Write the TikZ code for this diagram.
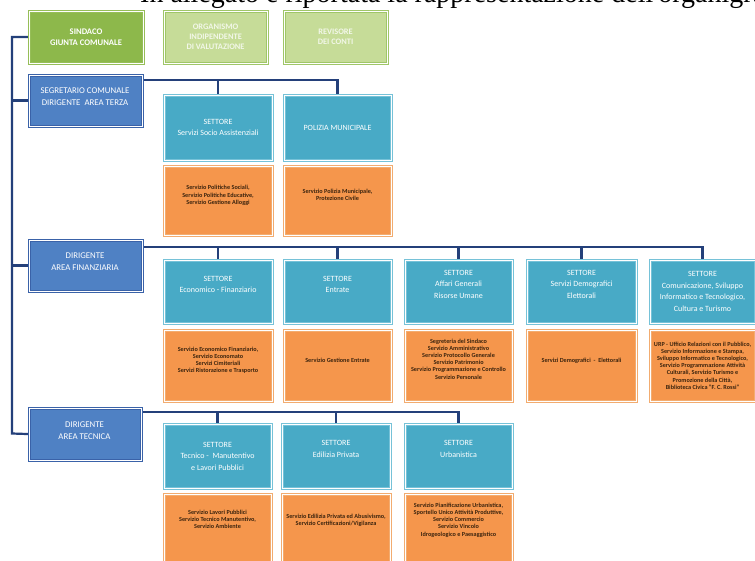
\documentclass[tikz,border=0pt]{standalone}
\usepackage{fontspec}
\setmainfont{Carlito}
\newfontfamily\serifx{Liberation Serif}
\usetikzlibrary{backgrounds}
\definecolor{blueF}{RGB}{79,129,196}
\definecolor{blueB}{RGB}{58,98,168}
\definecolor{tealF}{RGB}{72,170,198}
\definecolor{tealB}{RGB}{118,194,216}
\definecolor{orF}{RGB}{245,150,76}
\definecolor{orB}{RGB}{242,172,112}
\definecolor{orT}{RGB}{60,36,14}
\definecolor{grD}{RGB}{141,184,75}
\definecolor{grDB}{RGB}{150,190,88}
\definecolor{grL}{RGB}{198,220,152}
\definecolor{grLB}{RGB}{160,198,104}
\definecolor{grLT}{RGB}{242,247,232}
\definecolor{lineC}{RGB}{36,64,122}
\tikzset{
  box/.style={rectangle, double=white, double distance=0.8pt, line width=1.1pt, inner sep=1pt, align=center},
  bluebox/.style={box, fill=blueF, draw=blueB},
  tealbox/.style={box, fill=tealF, draw=tealB, text=white, font=\fontsize{8}{11.5}\selectfont},
  orbox/.style={box, fill=orF, draw=orB, text=orT, font=\fontsize{6.2}{7.2}\selectfont\bfseries},
  grbox/.style={box, fill=grD, draw=grDB, text=white, font=\fontsize{8.6}{11}\selectfont\bfseries},
  grlbox/.style={box, fill=grL, draw=grLB, text=grLT, font=\fontsize{8.4}{9.8}\selectfont\bfseries},
  bluetxt/.style={text=white, align=center, font=\fontsize{8.8}{12}\selectfont, inner sep=0pt},
  conn/.style={draw=lineC, line width=2.2pt}
}
\newcommand\bx[7]{\node[#1, minimum width={(#5-#3-3)*1pt}, minimum height={(#6-#4-3)*1pt}, anchor=north west] (#2) at ({#3+1.5},{#4+1.5}) {#7};}
\begin{document}
\begin{tikzpicture}[x=1pt,y=-1pt]
\clip (0,0) rectangle (755,560);
\node[anchor=base west, inner sep=0pt, font=\serifx\fontsize{28}{28}\selectfont] (intro) at (140,2.5) {In allegato è riportata la rappresentazione dell'organigramma};
% top row
\bx{grbox}{sind}{27}{9}{144}{64}{SINDACO\\GIUNTA COMUNALE}
\bx{grlbox}{oiv}{162}{9}{268}{64}{ORGANISMO\\INDIPENDENTE\\DI VALUTAZIONE}
\bx{grlbox}{rev}{282}{9}{388}{64}{REVISORE\\DEI CONTI}
% blue boxes
\bx{bluebox}{seg}{27}{73}{143}{127}{}
\bx{bluebox}{fin}{27}{238}{143}{292}{}
\bx{bluebox}{tec}{27}{406}{142}{461}{}
\node[bluetxt] (segT) at (85,97) {SEGRETARIO COMUNALE\\DIRIGENTE\ \ AREA TERZA};
\node[bluetxt] (finT) at (85,262) {DIRIGENTE\\AREA FINANZIARIA};
\node[bluetxt] (tecT) at (84.5,430.5) {DIRIGENTE\\AREA TECNICA};
% row 1
\bx{tealbox}{a1}{162}{93}{273}{161}{SETTORE\\Servizi Socio Assistenziali}
\bx{tealbox}{a2}{282}{93}{392}{161}{POLIZIA MUNICIPALE}
\bx{orbox}{oa1}{162}{164}{273}{236}{Servizio Politiche Sociali,\\Servizio Politiche Educative,\\Servizio Gestione Alloggi\\[4pt]}
\bx{orbox}{oa2}{282}{164}{392}{236}{Servizio Polizia Municipale,\\Protezione Civile\\[4pt]}
% row 2
\bx{tealbox}{b1}{162}{258}{273}{324}{SETTORE\\Economico - Finanziario\\[3pt]}
\bx{tealbox}{b2}{282}{258}{392}{324}{SETTORE\\Entrate\\[3pt]}
\bx{tealbox}{b3}{403}{258}{513}{324}{SETTORE\\Affari Generali\\Risorse Umane\\[3pt]}
\bx{tealbox}{b4}{525}{258}{637}{324}{SETTORE\\Servizi Demografici\\Elettorali\\[3pt]}
\bx{tealbox}{b5}{648}{258}{756}{324}{SETTORE\\Comunicazione, Sviluppo\\Informatico e Tecnologico,\\Cultura e Turismo}
\bx{orbox}{ob1}{162}{328}{273}{402}{Servizio Economico Finanziario,\\Servizio Economato\\Servizi Cimiteriali\\Servizi Ristorazione e Trasporto\\[4pt]}
\bx{orbox}{ob2}{282}{328}{392}{402}{Servizio Gestione Entrate\\[4pt]}
\bx{orbox}{ob3}{403}{328}{513}{402}{Segreteria del Sindaco\\Servizio Amministrativo\\Servizio Protocollo Generale\\Servizio Patrimonio\\Servizio Programmazione e Controllo\\Servizio Personale\\[6pt]}
\bx{orbox}{ob4}{525}{328}{637}{402}{Servizi Demografici\ \ -\ \ Elettorali\\[4pt]}
\bx{orbox}{ob5}{648}{328}{756}{402}{URP - Ufficio Relazioni con il Pubblico,\\Servizio Informazione e Stampa,\\Sviluppo Informatico e Tecnologico,\\Servizio Programmazione Attività\\Culturali, Servizio Turismo e\\Promozione della Città,\\Biblioteca Civica "F. C. Rossi"}
% row 3
\bx{tealbox}{c1}{162}{422}{272}{489}{SETTORE\\Tecnico -\ \ Manutentivo\\e Lavori Pubblici}
\bx{tealbox}{c2}{280}{422}{391}{489}{SETTORE\\Edilizia Privata\\[3pt]}
\bx{tealbox}{c3}{403}{422}{513}{489}{SETTORE\\Urbanistica\\[3pt]}
\bx{orbox}{oc1}{162}{492}{272}{563}{Servizio Lavori Pubblici\\Servizio Tecnico Manutentivo,\\Servizio Ambiente\\[10pt]}
\bx{orbox}{oc2}{280}{492}{391}{563}{Servizio Edilizia Privata ed Abusivismo,\\Servizio Certificazioni/Vigilanza\\[10pt]}
\bx{orbox}{oc3}{403}{492}{513}{563}{Servizio Pianificazione Urbanistica,\\Sportello Unico Attività Produttive,\\Servizio Commercio\\Servizio Vincolo\\Idrogeologico e Paesaggistico\\[10pt]}
% connectors
\begin{pgfonlayer}{background}
\fill[white] (0,0) rectangle (755,560);
\coordinate (tkb) at (12,433.5);
\draw[conn] (sind.west) -| (tkb) -- (tec.west);
\draw[conn] (seg.west) -- (seg.west -| tkb);
\draw[conn] (fin.west) -- (fin.west -| tkb);
\draw[conn] ([yshift=-5.5pt]seg.north east) -| (a1.north);
\draw[conn] ([yshift=-5.5pt]seg.north east) -| (a2.north);
\foreach \t in {b1,b2,b3,b4,b5}{\draw[conn] ([yshift=-7.5pt]fin.north east) -| (\t.north);}
\foreach \t in {c1,c2,c3}{\draw[conn] ([yshift=-4.5pt]tec.north east) -| (\t.north);}
\end{pgfonlayer}
\end{tikzpicture}
\end{document}
